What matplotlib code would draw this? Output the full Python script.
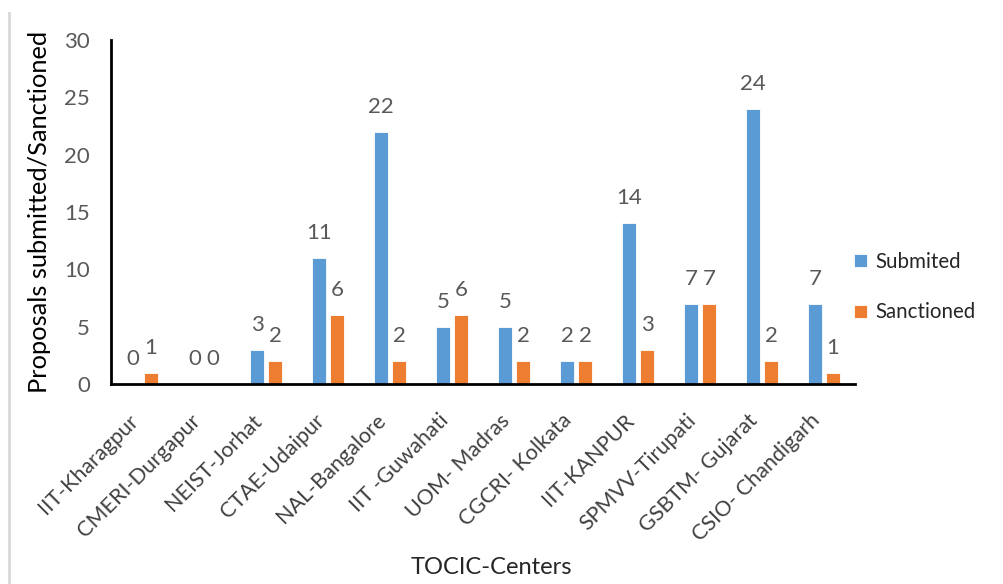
import matplotlib
matplotlib.use("Agg")
import matplotlib.pyplot as plt
from matplotlib.lines import Line2D
import numpy as np

centers = ["IIT-Kharagpur", "CMERI-Durgapur", "NEIST-Jorhat", "CTAE-Udaipur",
           "NAL-Bangalore", "IIT -Guwahati", "UOM- Madras", "CGCRI- Kolkata",
           "IIT-KANPUR", "SPMVV-Tirupati", "GSBTM- Gujarat", "CSIO- Chandigarh"]
submitted = [0, 0, 3, 11, 22, 5, 5, 2, 14, 7, 24, 7]
sanctioned = [1, 0, 2, 6, 2, 6, 2, 2, 3, 7, 2, 1]

BLUE = "#5B9BD5"
ORANGE = "#ED7D31"

plt.rcParams["font.family"] = ["Lato", "DejaVu Sans"]

fig = plt.figure(figsize=(10.04, 5.84), dpi=100)
ax = fig.add_axes([111 / 1004, 200 / 584, 744 / 1004, 344 / 584])

x = np.arange(len(centers))
w = 0.23
off = 0.145
b1 = ax.bar(x - off, submitted, w, color=BLUE, edgecolor="white", linewidth=0.6, label="Submited")
b2 = ax.bar(x + off, sanctioned, w, color=ORANGE, edgecolor="white", linewidth=0.6, label="Sanctioned")

# Datenbeschriftungen
for bars, vals in ((b1, submitted), (b2, sanctioned)):
    for rect, v in zip(bars, vals):
        ax.annotate(str(v), (rect.get_x() + rect.get_width() / 2, v),
                    xytext=(0, 25), textcoords="offset pixels",
                    ha="center", va="center", fontsize=16, color="#595959")

ax.set_xlim(-0.5, len(centers) - 0.5)
ax.set_ylim(0, 30)
ax.set_yticks(range(0, 31, 5))
ax.tick_params(axis="y", length=0, pad=15, labelsize=16, labelcolor="#595959")
ax.tick_params(axis="x", length=0, pad=19, labelsize=15.5, labelcolor="#404040")
ax.set_xticks(x)
ax.set_xticklabels(centers, rotation=45, ha="right", va="top")

for s in ("top", "right"):
    ax.spines[s].set_visible(False)
for s in ("left", "bottom"):
    ax.spines[s].set_linewidth(2)
    ax.spines[s].set_color("black")

ax.set_ylabel("Proposals submitted/Sanctioned", fontsize=18.3, color="black")
ax.yaxis.set_label_coords(-60 / 744, 0.5)
fig.text(491 / 1004, 1 - 567 / 584, "TOCIC-Centers", fontsize=17, color="#262626",
         ha="center", va="center")

ax.legend(loc="center left", bbox_to_anchor=(836 / 1004, 1 - 287 / 584),
          bbox_transform=fig.transFigure, frameon=False, fontsize=14.8,
          handlelength=0.6, handleheight=0.6, handletextpad=0.4, labelspacing=1.5,
          labelcolor="#262626")

# dünne graue Linie am linken Rand
fig.add_artist(Line2D([9 / 1004, 9 / 1004], [0, 1 - 13 / 584], transform=fig.transFigure,
                      color="#d9d9d9", linewidth=2))

fig.savefig("out.png", dpi=100)
